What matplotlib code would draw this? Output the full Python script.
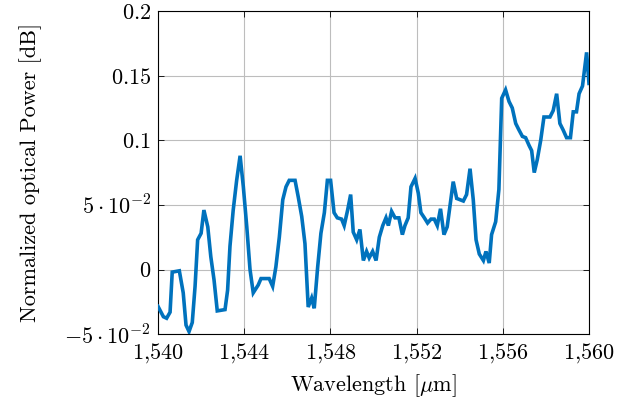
import matplotlib
matplotlib.use('Agg')
import matplotlib.pyplot as plt

plt.rcParams['font.family'] = 'serif'
plt.rcParams['font.serif'] = ['cmr10']
plt.rcParams['mathtext.fontset'] = 'cm'
plt.rcParams['axes.formatter.use_mathtext'] = True

wavelength = [
    1540.00, 1540.25, 1540.40, 1540.56, 1540.66, 1540.99, 1541.17, 1541.30, 1541.44, 1541.59,
    1541.72, 1541.84, 1542.00, 1542.13, 1542.31, 1542.45, 1542.60, 1542.75, 1543.11, 1543.23,
    1543.34, 1543.49, 1543.65, 1543.81, 1543.96, 1544.12, 1544.27, 1544.42, 1544.65, 1544.78,
    1545.16, 1545.32, 1545.47, 1545.63, 1545.79, 1545.94, 1546.09, 1546.36, 1546.51, 1546.67,
    1546.82, 1546.97, 1547.13, 1547.25, 1547.41, 1547.56, 1547.72, 1547.86, 1548.01, 1548.17,
    1548.32, 1548.52, 1548.64, 1548.80, 1548.94, 1549.06, 1549.22, 1549.37, 1549.53, 1549.68,
    1549.80, 1549.96, 1550.12, 1550.27, 1550.43, 1550.58, 1550.69, 1550.84, 1551.00, 1551.18,
    1551.34, 1551.46, 1551.61, 1551.74, 1551.93, 1552.08, 1552.20, 1552.36, 1552.51, 1552.67,
    1552.82, 1552.96, 1553.11, 1553.27, 1553.42, 1553.55, 1553.70, 1553.86, 1554.01, 1554.17,
    1554.32, 1554.48, 1554.63, 1554.76, 1554.91, 1555.10, 1555.22, 1555.37, 1555.48, 1555.67,
    1555.82, 1555.95, 1556.13, 1556.29, 1556.44, 1556.60, 1556.75, 1556.91, 1557.06, 1557.22,
    1557.34, 1557.46, 1557.60, 1557.76, 1557.91, 1558.19, 1558.34, 1558.50, 1558.65, 1558.80,
    1558.96, 1559.14, 1559.27, 1559.42, 1559.54, 1559.70, 1559.89, 1560.00,
]
power = [
    -0.0285, -0.0365, -0.0377, -0.033, -0.002, -0.001, -0.018, -0.043, -0.048, -0.041,
    -0.013, 0.023, 0.028, 0.046, 0.033, 0.010, -0.008, -0.032, -0.031, -0.016,
    0.018, 0.046, 0.069, 0.088, 0.064, 0.033, 0.000, -0.018, -0.012, -0.007,
    -0.007, -0.013, 0.002, 0.025, 0.054, 0.064, 0.069, 0.069, 0.056, 0.041,
    0.020, -0.029, -0.022, -0.030, 0.002, 0.028, 0.044, 0.069, 0.069, 0.044,
    0.040, 0.039, 0.034, 0.046, 0.058, 0.029, 0.023, 0.031, 0.007, 0.014,
    0.009, 0.014, 0.007, 0.025, 0.034, 0.040, 0.034, 0.045, 0.040, 0.040,
    0.027, 0.034, 0.040, 0.064, 0.0705, 0.059, 0.044, 0.040, 0.036, 0.039,
    0.039, 0.034, 0.047, 0.027, 0.033, 0.049, 0.068, 0.055, 0.054, 0.053,
    0.058, 0.078, 0.054, 0.023, 0.012, 0.007, 0.014, 0.005, 0.027, 0.037,
    0.062, 0.1325, 0.139, 0.130, 0.125, 0.113, 0.108, 0.103, 0.102, 0.096,
    0.092, 0.075, 0.085, 0.100, 0.118, 0.118, 0.123, 0.136, 0.113, 0.108,
    0.102, 0.102, 0.122, 0.122, 0.136, 0.142, 0.168, 0.144,
]

x_ticks = [1540, 1544, 1548, 1552, 1556, 1560]
x_tick_labels = ['$1{,}540$', '$1{,}544$', '$1{,}548$', '$1{,}552$', '$1{,}556$', '$1{,}560$']
y_ticks = [-0.05, 0, 0.05, 0.1, 0.15, 0.2]
y_tick_labels = [r'$-5\cdot10^{-2}$', '$0$', r'$5\cdot10^{-2}$', '$0.1$', '$0.15$', '$0.2$']

fig = plt.figure(figsize=(6.31, 4.08), dpi=100)
ax = fig.add_axes([0.2504, 0.181, 0.683, 0.792])

ax.plot(wavelength, power, color='#0072BD', lw=2.6, solid_joinstyle='miter', zorder=3)

ax.set_xlim(1540, 1560)
ax.set_ylim(-0.05, 0.2)
ax.set_xticks(x_ticks)
ax.set_xticklabels(x_tick_labels)
ax.set_yticks(y_ticks)
ax.set_yticklabels(y_tick_labels)
ax.tick_params(direction='in', length=4, width=0.6, top=True, right=True,
               labelsize=16, pad=5)
ax.grid(True, color='#bdbdbd', lw=0.8)
for s in ax.spines.values():
    s.set_linewidth(0.8)

ax.set_xlabel(r'Wavelength [$\mu$m]', fontsize=16)
ax.set_ylabel('Normalized optical Power [dB]', fontsize=16)
ax.xaxis.set_label_coords(0.5, -0.16)
ax.xaxis.label.set_va('center')
ax.yaxis.set_label_coords(-0.295, 0.5)
ax.yaxis.label.set_va('center')

fig.savefig('out.png', dpi=100)
